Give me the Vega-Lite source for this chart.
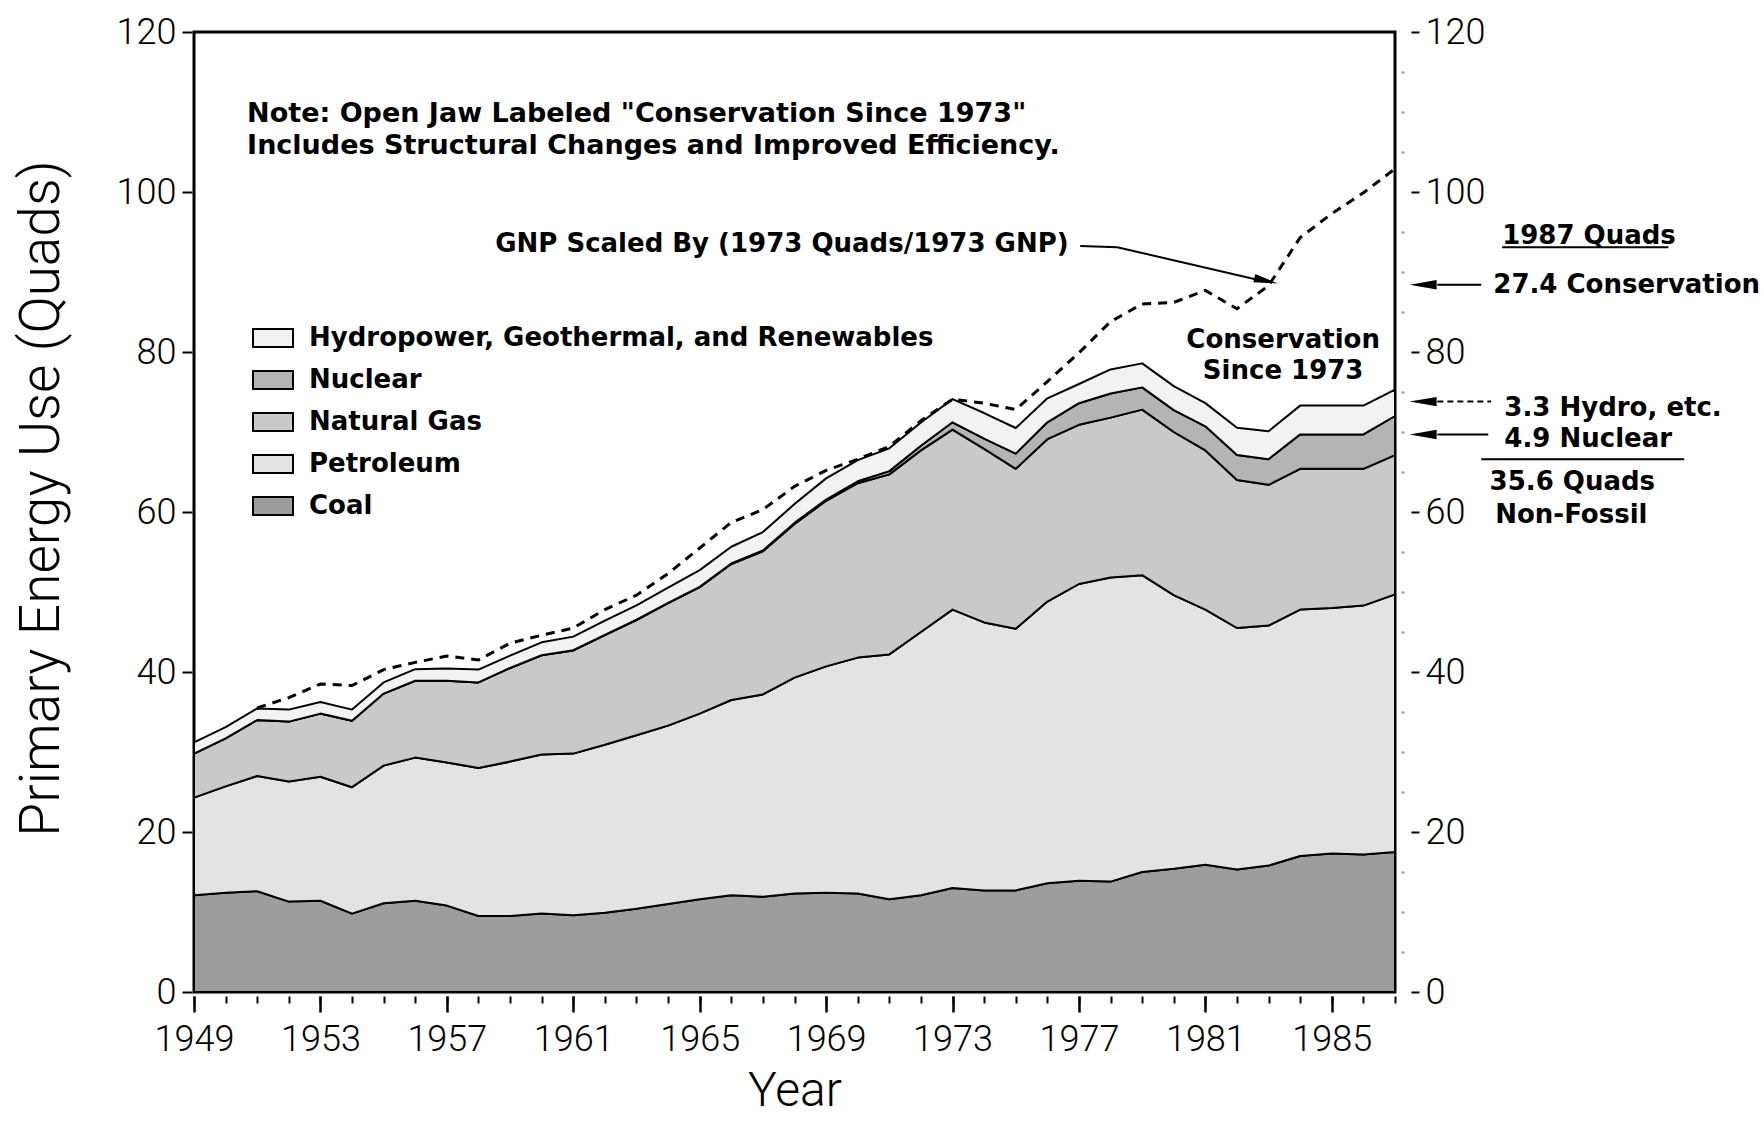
{
  "$schema": "https://vega.github.io/schema/vega-lite/v6.json",
  "width": 1201,
  "height": 960,
  "autosize": {"type": "none"},
  "padding": {"left": 194, "top": 32, "right": 369, "bottom": 130},
  "background": "white",
  "config": {
    "view": {"stroke": "black", "strokeWidth": 3},
    "axis": {
      "domain": false, "grid": false, "tickColor": "black", "labelColor": "black", "titleColor": "black",
      "labelFont": "Roboto", "titleFont": "Roboto", "labelFontWeight": 300, "titleFontWeight": 300,
      "labelFontSize": 36, "titleFontSize": 50, "labelFlush": false, "labelOverlap": false
    },
    "text": {"font": "DejaVu Sans", "fontSize": 26, "fontWeight": "bold", "color": "black"}
  },
  "datasets": {
    "energy": [
      {"year": 1949, "Coal": 12.1, "Petroleum": 12.2, "Natural Gas": 5.5, "Nuclear": 0, "Hydropower, Geothermal, and Renewables": 1.4},
      {"year": 1950, "Coal": 12.4, "Petroleum": 13.3, "Natural Gas": 6.0, "Nuclear": 0, "Hydropower, Geothermal, and Renewables": 1.4},
      {"year": 1951, "Coal": 12.6, "Petroleum": 14.4, "Natural Gas": 7.0, "Nuclear": 0, "Hydropower, Geothermal, and Renewables": 1.45},
      {"year": 1952, "Coal": 11.3, "Petroleum": 15.0, "Natural Gas": 7.5, "Nuclear": 0, "Hydropower, Geothermal, and Renewables": 1.5},
      {"year": 1953, "Coal": 11.4, "Petroleum": 15.5, "Natural Gas": 7.9, "Nuclear": 0, "Hydropower, Geothermal, and Renewables": 1.45},
      {"year": 1954, "Coal": 9.8, "Petroleum": 15.8, "Natural Gas": 8.3, "Nuclear": 0, "Hydropower, Geothermal, and Renewables": 1.4},
      {"year": 1955, "Coal": 11.1, "Petroleum": 17.2, "Natural Gas": 9.0, "Nuclear": 0, "Hydropower, Geothermal, and Renewables": 1.4},
      {"year": 1956, "Coal": 11.4, "Petroleum": 17.9, "Natural Gas": 9.6, "Nuclear": 0, "Hydropower, Geothermal, and Renewables": 1.45},
      {"year": 1957, "Coal": 10.8, "Petroleum": 17.9, "Natural Gas": 10.2, "Nuclear": 0, "Hydropower, Geothermal, and Renewables": 1.55},
      {"year": 1958, "Coal": 9.5, "Petroleum": 18.5, "Natural Gas": 10.7, "Nuclear": 0, "Hydropower, Geothermal, and Renewables": 1.6},
      {"year": 1959, "Coal": 9.5, "Petroleum": 19.3, "Natural Gas": 11.7, "Nuclear": 0, "Hydropower, Geothermal, and Renewables": 1.55},
      {"year": 1960, "Coal": 9.8, "Petroleum": 19.9, "Natural Gas": 12.4, "Nuclear": 0.01, "Hydropower, Geothermal, and Renewables": 1.6},
      {"year": 1961, "Coal": 9.6, "Petroleum": 20.2, "Natural Gas": 12.9, "Nuclear": 0.02, "Hydropower, Geothermal, and Renewables": 1.7},
      {"year": 1962, "Coal": 9.9, "Petroleum": 21.0, "Natural Gas": 13.7, "Nuclear": 0.03, "Hydropower, Geothermal, and Renewables": 1.8},
      {"year": 1963, "Coal": 10.4, "Petroleum": 21.7, "Natural Gas": 14.4, "Nuclear": 0.04, "Hydropower, Geothermal, and Renewables": 1.8},
      {"year": 1964, "Coal": 11.0, "Petroleum": 22.3, "Natural Gas": 15.3, "Nuclear": 0.04, "Hydropower, Geothermal, and Renewables": 1.9},
      {"year": 1965, "Coal": 11.6, "Petroleum": 23.2, "Natural Gas": 15.8, "Nuclear": 0.04, "Hydropower, Geothermal, and Renewables": 2.1},
      {"year": 1966, "Coal": 12.1, "Petroleum": 24.4, "Natural Gas": 17.0, "Nuclear": 0.06, "Hydropower, Geothermal, and Renewables": 2.1},
      {"year": 1967, "Coal": 11.9, "Petroleum": 25.3, "Natural Gas": 17.9, "Nuclear": 0.09, "Hydropower, Geothermal, and Renewables": 2.3},
      {"year": 1968, "Coal": 12.3, "Petroleum": 27.0, "Natural Gas": 19.2, "Nuclear": 0.14, "Hydropower, Geothermal, and Renewables": 2.35},
      {"year": 1969, "Coal": 12.4, "Petroleum": 28.3, "Natural Gas": 20.7, "Nuclear": 0.15, "Hydropower, Geothermal, and Renewables": 2.65},
      {"year": 1970, "Coal": 12.3, "Petroleum": 29.5, "Natural Gas": 21.8, "Nuclear": 0.24, "Hydropower, Geothermal, and Renewables": 2.65},
      {"year": 1971, "Coal": 11.6, "Petroleum": 30.6, "Natural Gas": 22.5, "Nuclear": 0.41, "Hydropower, Geothermal, and Renewables": 2.85},
      {"year": 1972, "Coal": 12.1, "Petroleum": 32.9, "Natural Gas": 22.7, "Nuclear": 0.58, "Hydropower, Geothermal, and Renewables": 2.9},
      {"year": 1973, "Coal": 13.0, "Petroleum": 34.8, "Natural Gas": 22.5, "Nuclear": 0.91, "Hydropower, Geothermal, and Renewables": 2.9},
      {"year": 1974, "Coal": 12.7, "Petroleum": 33.5, "Natural Gas": 21.7, "Nuclear": 1.27, "Hydropower, Geothermal, and Renewables": 3.2},
      {"year": 1975, "Coal": 12.7, "Petroleum": 32.7, "Natural Gas": 20.0, "Nuclear": 1.9, "Hydropower, Geothermal, and Renewables": 3.2},
      {"year": 1976, "Coal": 13.6, "Petroleum": 35.2, "Natural Gas": 20.3, "Nuclear": 2.11, "Hydropower, Geothermal, and Renewables": 3.0},
      {"year": 1977, "Coal": 13.9, "Petroleum": 37.1, "Natural Gas": 19.9, "Nuclear": 2.7, "Hydropower, Geothermal, and Renewables": 2.4},
      {"year": 1978, "Coal": 13.8, "Petroleum": 38.0, "Natural Gas": 20.0, "Nuclear": 3.02, "Hydropower, Geothermal, and Renewables": 3.0},
      {"year": 1979, "Coal": 15.0, "Petroleum": 37.1, "Natural Gas": 20.7, "Nuclear": 2.78, "Hydropower, Geothermal, and Renewables": 3.0},
      {"year": 1980, "Coal": 15.4, "Petroleum": 34.2, "Natural Gas": 20.4, "Nuclear": 2.74, "Hydropower, Geothermal, and Renewables": 3.0},
      {"year": 1981, "Coal": 15.9, "Petroleum": 31.9, "Natural Gas": 19.9, "Nuclear": 3.01, "Hydropower, Geothermal, and Renewables": 2.9},
      {"year": 1982, "Coal": 15.3, "Petroleum": 30.2, "Natural Gas": 18.5, "Nuclear": 3.13, "Hydropower, Geothermal, and Renewables": 3.4},
      {"year": 1983, "Coal": 15.8, "Petroleum": 30.0, "Natural Gas": 17.6, "Nuclear": 3.2, "Hydropower, Geothermal, and Renewables": 3.5},
      {"year": 1984, "Coal": 17.0, "Petroleum": 30.8, "Natural Gas": 17.6, "Nuclear": 4.3, "Hydropower, Geothermal, and Renewables": 3.6},
      {"year": 1985, "Coal": 17.3, "Petroleum": 30.7, "Natural Gas": 17.4, "Nuclear": 4.3, "Hydropower, Geothermal, and Renewables": 3.6},
      {"year": 1986, "Coal": 17.2, "Petroleum": 31.1, "Natural Gas": 17.1, "Nuclear": 4.3, "Hydropower, Geothermal, and Renewables": 3.6},
      {"year": 1987, "Coal": 17.5, "Petroleum": 32.2, "Natural Gas": 17.4, "Nuclear": 4.9, "Hydropower, Geothermal, and Renewables": 3.3}
    ],
    "stackOrder": [
      {"source": "Coal", "k": 1},
      {"source": "Petroleum", "k": 2},
      {"source": "Natural Gas", "k": 3},
      {"source": "Nuclear", "k": 4},
      {"source": "Hydropower, Geothermal, and Renewables", "k": 5}
    ],
    "gnp": [
      {"year": 1951, "gnp": 35.5}, {"year": 1952, "gnp": 36.8}, {"year": 1953, "gnp": 38.5}, {"year": 1954, "gnp": 38.3},
      {"year": 1955, "gnp": 40.3}, {"year": 1956, "gnp": 41.2}, {"year": 1957, "gnp": 42.0}, {"year": 1958, "gnp": 41.5},
      {"year": 1959, "gnp": 43.6}, {"year": 1960, "gnp": 44.6}, {"year": 1961, "gnp": 45.5}, {"year": 1962, "gnp": 47.8},
      {"year": 1963, "gnp": 49.6}, {"year": 1964, "gnp": 52.3}, {"year": 1965, "gnp": 55.5}, {"year": 1966, "gnp": 58.7},
      {"year": 1967, "gnp": 60.3}, {"year": 1968, "gnp": 63.2}, {"year": 1969, "gnp": 65.2}, {"year": 1970, "gnp": 66.6},
      {"year": 1971, "gnp": 68.2}, {"year": 1972, "gnp": 71.4}, {"year": 1973, "gnp": 74.1}, {"year": 1974, "gnp": 73.6},
      {"year": 1975, "gnp": 72.8}, {"year": 1976, "gnp": 76.3}, {"year": 1977, "gnp": 79.9}, {"year": 1978, "gnp": 83.8},
      {"year": 1979, "gnp": 86.0}, {"year": 1980, "gnp": 86.2}, {"year": 1981, "gnp": 87.7}, {"year": 1982, "gnp": 85.4},
      {"year": 1983, "gnp": 88.3}, {"year": 1984, "gnp": 94.3}, {"year": 1985, "gnp": 97.3}, {"year": 1986, "gnp": 99.9},
      {"year": 1987, "gnp": 102.9}
    ],
    "labels": [
      {"t": "Note: Open Jaw Labeled \"Conservation Since 1973\"", "x": 1950.68, "y": 109.75, "a": "note"},
      {"t": "Includes Structural Changes and Improved Efficiency.", "x": 1950.68, "y": 105.75, "a": "note"},
      {"t": "GNP Scaled By (1973 Quads/1973 GNP)", "x": 1958.53, "y": 93.5, "a": "left"},
      {"t": "1987 Quads", "x": 1990.39, "y": 94.5, "a": "left"},
      {"t": "27.4 Conservation", "x": 1990.11, "y": 88.4, "a": "left"},
      {"t": "3.3 Hydro, etc.", "x": 1990.46, "y": 73.0, "a": "left"},
      {"t": "4.9 Nuclear", "x": 1990.46, "y": 69.1, "a": "left"},
      {"t": "35.6 Quads", "x": 1992.61, "y": 63.7, "a": "center"},
      {"t": "Non-Fossil", "x": 1992.58, "y": 59.6, "a": "center"},
      {"t": "Conservation", "x": 1983.46, "y": 81.5, "a": "center"},
      {"t": "Since 1973", "x": 1983.46, "y": 77.6, "a": "center"}
    ],
    "segs": [
      {"x1": 1990.39, "x2": 1995.65, "y1": 93.1, "y2": 93.1, "d": "solid"},
      {"x1": 1989.73, "x2": 1996.15, "y1": 66.6, "y2": 66.6, "d": "solid"},
      {"x1": 1988.34, "x2": 1989.73, "y1": 88.4, "y2": 88.4, "d": "solid"},
      {"x1": 1988.34, "x2": 1989.95, "y1": 69.7, "y2": 69.7, "d": "solid"},
      {"x1": 1988.34, "x2": 1990.04, "y1": 73.8, "y2": 73.8, "d": "dash"},
      {"x1": 1977.04, "x2": 1978.21, "y1": 93.25, "y2": 93.1, "d": "solid"},
      {"x1": 1978.21, "x2": 1982.58, "y1": 93.1, "y2": 89.1, "d": "solid"}
    ],
    "heads": [
      {"x": 1987.89, "y": 88.4, "dir": "left"},
      {"x": 1987.89, "y": 73.8, "dir": "left"},
      {"x": 1987.89, "y": 69.7, "dir": "left"},
      {"x": 1982.92, "y": 88.9, "dir": "gnp"}
    ]
  },
  "layer": [
    {
      "data": {"name": "energy"},
      "transform": [
        {"fold": ["Coal", "Petroleum", "Natural Gas", "Nuclear", "Hydropower, Geothermal, and Renewables"], "as": ["source", "q"]},
        {"lookup": "source", "from": {"data": {"name": "stackOrder"}, "key": "source", "fields": ["k"]}}
      ],
      "mark": {"type": "area", "stroke": "black", "strokeWidth": 2, "opacity": 1, "strokeJoin": "round"},
      "encoding": {
        "x": {
          "field": "year", "type": "quantitative",
          "scale": {"domain": [1949, 1987], "nice": false, "zero": false},
          "axis": {
            "orient": "bottom", "values": [1949, 1953, 1957, 1961, 1965, 1969, 1973, 1977, 1981, 1985],
            "format": "d", "tickSize": 16, "tickWidth": 2.5, "offset": 4, "labelPadding": 10,
            "title": "Year", "titleFontSize": 48, "titlePadding": 10
          }
        },
        "y": {
          "field": "q", "type": "quantitative", "stack": "zero",
          "scale": {"domain": [0, 120], "nice": false, "zero": true},
          "axis": {
            "orient": "left", "values": [0, 20, 40, 60, 80, 100, 120],
            "tickSize": 10, "tickWidth": 2, "offset": 2, "labelPadding": 6,
            "title": "Primary Energy Use (Quads)", "titleFontSize": 55, "titlePadding": 46, "titleY": 466
          }
        },
        "color": {
          "field": "source", "type": "nominal",
          "scale": {
            "domain": ["Hydropower, Geothermal, and Renewables", "Nuclear", "Natural Gas", "Petroleum", "Coal"],
            "range": ["#f2f2f2", "#b4b4b4", "#c9c9c9", "#e3e3e3", "#9d9d9d"]
          },
          "legend": {
            "orient": "none", "legendX": 58, "legendY": 285, "title": null, "padding": 0,
            "symbolType": "M-1,-0.45H1V0.45H-1Z", "symbolSize": 1600,
            "symbolStrokeColor": "black", "symbolStrokeWidth": 2, "symbolOpacity": 1,
            "labelFont": "DejaVu Sans", "labelFontWeight": "bold", "labelFontSize": 26, "labelColor": "black",
            "labelOffset": 15, "rowPadding": 8, "labelLimit": 0
          }
        },
        "order": {"field": "k", "type": "quantitative"}
      }
    },
    {
      "data": {"name": "gnp"},
      "mark": {"type": "line", "strokeDash": [9, 7], "strokeWidth": 3, "color": "black"},
      "encoding": {
        "x": {
          "field": "year", "type": "quantitative",
          "scale": {"domain": [1949, 1987], "nice": false, "zero": false},
          "axis": {
            "orient": "bottom",
            "values": [1949, 1950, 1951, 1952, 1953, 1954, 1955, 1956, 1957, 1958, 1959, 1960, 1961, 1962, 1963, 1964, 1965, 1966, 1967, 1968, 1969, 1970, 1971, 1972, 1973, 1974, 1975, 1976, 1977, 1978, 1979, 1980, 1981, 1982, 1983, 1984, 1985, 1986, 1987],
            "labels": false, "tickSize": 7, "tickWidth": 2, "offset": 4, "title": null
          }
        },
        "y": {
          "field": "gnp", "type": "quantitative",
          "scale": {"domain": [0, 120], "nice": false, "zero": true},
          "axis": {
            "orient": "right", "values": [0, 20, 40, 60, 80, 100, 120],
            "tickSize": 8, "tickWidth": 2, "offset": 16, "labelPadding": 6, "title": null
          }
        }
      }
    },
    {
      "data": {"name": "segs"},
      "transform": [{"filter": "datum.d === 'solid'"}],
      "mark": {"type": "rule", "color": "black", "strokeWidth": 2},
      "encoding": {
        "x": {"field": "x1", "type": "quantitative", "scale": {"domain": [1949, 1987], "nice": false, "zero": false}, "axis": null},
        "x2": {"field": "x2"},
        "y": {
          "field": "y1", "type": "quantitative", "scale": {"domain": [0, 120], "nice": false, "zero": true},
          "axis": {
            "orient": "right", "values": [5, 10, 15, 25, 30, 35, 45, 50, 55, 65, 70, 75, 85, 90, 95, 105, 110, 115],
            "labels": false, "tickSize": 3, "tickWidth": 2, "tickColor": "#999999", "offset": 6, "title": null
          }
        },
        "y2": {"field": "y2"}
      }
    },
    {
      "data": {"name": "segs"},
      "transform": [{"filter": "datum.d === 'dash'"}],
      "mark": {"type": "rule", "color": "black", "strokeWidth": 2, "strokeDash": [6, 4]},
      "encoding": {
        "x": {"field": "x1", "type": "quantitative", "scale": {"domain": [1949, 1987], "nice": false, "zero": false}, "axis": null},
        "x2": {"field": "x2"},
        "y": {"field": "y1", "type": "quantitative", "scale": {"domain": [0, 120], "nice": false, "zero": true}, "axis": null},
        "y2": {"field": "y2"}
      }
    },
    {
      "data": {"name": "heads"},
      "transform": [{"filter": "datum.dir === 'left'"}],
      "mark": {"type": "point", "shape": "M-1,0L1,-0.35L1,0.35Z", "size": 729, "filled": true, "color": "black", "opacity": 1},
      "encoding": {
        "x": {"field": "x", "type": "quantitative", "scale": {"domain": [1949, 1987], "nice": false, "zero": false}, "axis": null},
        "y": {"field": "y", "type": "quantitative", "scale": {"domain": [0, 120], "nice": false, "zero": true}, "axis": null}
      }
    },
    {
      "data": {"name": "heads"},
      "transform": [{"filter": "datum.dir === 'gnp'"}],
      "mark": {"type": "point", "shape": "M1,0L-1,-0.35L-1,0.35Z", "size": 576, "angle": 13, "filled": true, "color": "black", "opacity": 1},
      "encoding": {
        "x": {"field": "x", "type": "quantitative", "scale": {"domain": [1949, 1987], "nice": false, "zero": false}, "axis": null},
        "y": {"field": "y", "type": "quantitative", "scale": {"domain": [0, 120], "nice": false, "zero": true}, "axis": null}
      }
    },
    {
      "data": {"name": "labels"},
      "transform": [{"filter": "datum.a === 'left'"}],
      "mark": {"type": "text", "align": "left", "baseline": "middle", "font": "DejaVu Sans", "fontWeight": "bold", "fontSize": 26, "color": "black"},
      "encoding": {
        "x": {"field": "x", "type": "quantitative", "scale": {"domain": [1949, 1987], "nice": false, "zero": false}, "axis": null},
        "y": {"field": "y", "type": "quantitative", "scale": {"domain": [0, 120], "nice": false, "zero": true}, "axis": null},
        "text": {"field": "t"}
      }
    },
    {
      "data": {"name": "labels"},
      "transform": [{"filter": "datum.a === 'note'"}],
      "mark": {"type": "text", "align": "left", "baseline": "middle", "font": "DejaVu Sans", "fontWeight": "bold", "fontSize": 27, "color": "black"},
      "encoding": {
        "x": {"field": "x", "type": "quantitative", "scale": {"domain": [1949, 1987], "nice": false, "zero": false}, "axis": null},
        "y": {"field": "y", "type": "quantitative", "scale": {"domain": [0, 120], "nice": false, "zero": true}, "axis": null},
        "text": {"field": "t"}
      }
    },
    {
      "data": {"name": "labels"},
      "transform": [{"filter": "datum.a === 'center'"}],
      "mark": {"type": "text", "align": "center", "baseline": "middle", "font": "DejaVu Sans", "fontWeight": "bold", "fontSize": 26, "color": "black"},
      "encoding": {
        "x": {"field": "x", "type": "quantitative", "scale": {"domain": [1949, 1987], "nice": false, "zero": false}, "axis": null},
        "y": {"field": "y", "type": "quantitative", "scale": {"domain": [0, 120], "nice": false, "zero": true}, "axis": null},
        "text": {"field": "t"}
      }
    }
  ],
  "resolve": {"axis": {"x": "independent", "y": "independent"}}
}
